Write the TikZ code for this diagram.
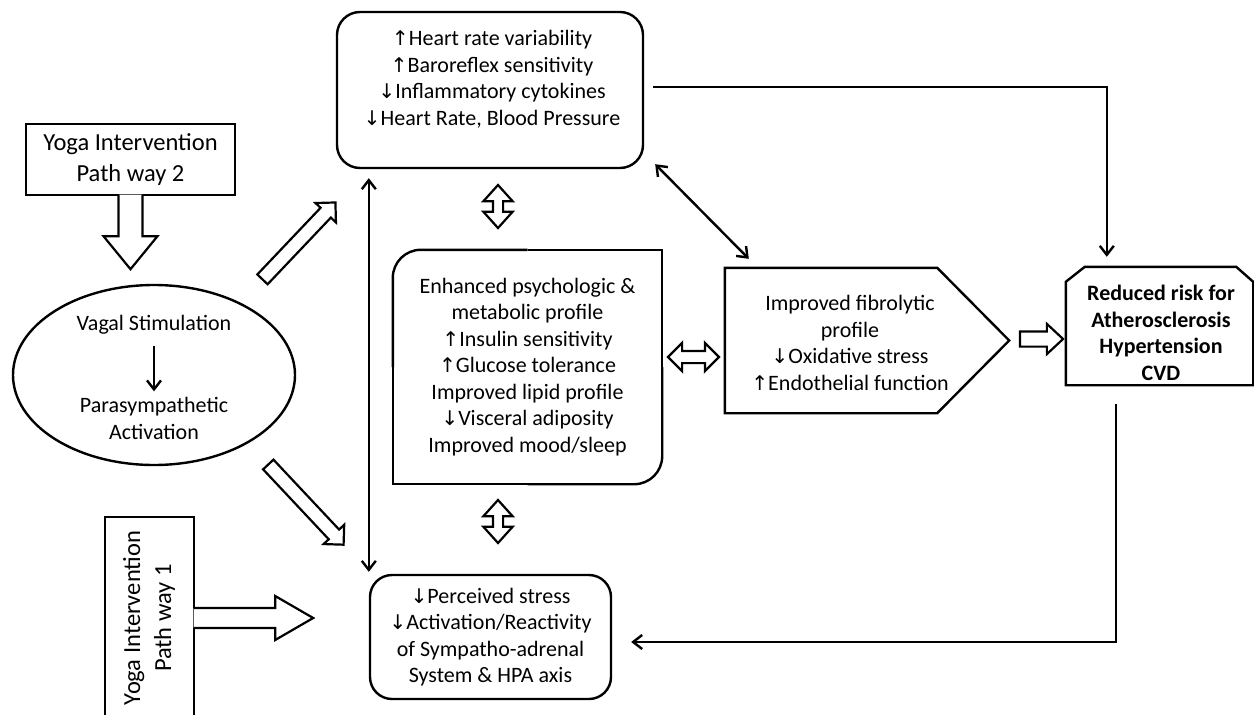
\documentclass[tikz,border=0pt]{standalone}
\usepackage{fontspec}
\setmainfont{Carlito}
\newfontfamily\symbfont{DejaVu Sans}[Scale=0.92]
\usetikzlibrary{arrows.meta,shapes.geometric,shapes.arrows,calc}
\newcommand{\uarr}{{\symbfont ↑}}
\newcommand{\darr}{{\symbfont ↓}}

\begin{document}
\begin{tikzpicture}[x=1pt, y=-1pt, line width=2.4pt,
  txt/.style={align=center, inner sep=0pt, font=\fontsize{22}{26.5}\selectfont},
  yogatxt/.style={align=center, inner sep=0pt, font=\fontsize{24.5}{31}\selectfont},
  boxed/.style={draw, inner sep=0pt},
  hollow/.style={draw, fill=white, inner sep=0pt, line width=2.2pt},
  arr/.style={-{Straight Barb[length=9pt,width=14pt]}},
  twoway/.style={{Straight Barb[length=9pt,width=14pt]}-{Straight Barb[length=9pt,width=14pt]}}]
  \useasboundingbox (0,0) rectangle (1254,715);

  % the five boxes
  \node[boxed, rounded corners=23pt, minimum width=306pt, minimum height=156pt] (topbox) at (490,90) {};
  \node[txt] (toptext) at (492,79.5) {\uarr Heart rate variability\\ \uarr Baroreflex sensitivity\\
    \darr Inflammatory cytokines\\ \darr Heart Rate, Blood Pressure};
  \node[txt, minimum width=267pt, minimum height=232pt] (midbox) at (527.5,367) {Enhanced psychologic \&\\
    metabolic profile\\ \uarr Insulin sensitivity\\ \uarr Glucose tolerance\\ Improved lipid profile\\
    \darr Visceral adiposity\\ Improved mood/sleep};
  \draw[rounded corners=28pt] (midbox.west) -- (midbox.north west) -- (midbox.north);
  \draw[rounded corners=28pt] (midbox.east) -- (midbox.south east) -- (midbox.south);
  \draw (midbox.north) -- (midbox.north east) -- (midbox.east);
  \draw (midbox.south) -- (midbox.south west) -- (midbox.west);
  \node[txt, draw, rounded corners=22pt, minimum width=241pt, minimum height=124pt] (botbox) at (490.5,637)
    {\darr Perceived stress\\ \darr Activation/Reactivity\\ of Sympatho-adrenal\\ System \& HPA axis};
  \node[minimum width=210pt, minimum height=143pt, inner sep=0pt] (fib) at (831,340.5) {};
  \draw (fib.north west) -- (fib.north east) -- ($(fib.east)+(72,0)$) -- (fib.south east) -- (fib.south west) -- cycle;
  \node[txt] (fibtext) at (850,343) {Improved fibrolytic\\ profile\\ \darr Oxidative stress\\ \uarr Endothelial function};
  \node[minimum width=185pt, minimum height=116pt, inner sep=0pt] (risk) at (1159.5,326) {};
  \draw (risk.south west) -- ($(risk.north west)+(0,15)$) -- ($(risk.north west)+(19,0)$)
    -- ($(risk.north east)+(-17,0)$) -- ($(risk.north east)+(0,15)$) -- (risk.south east) -- cycle;
  \node[txt, font=\fontsize{22}{26.5}\selectfont\bfseries] (risktext) at (1161,333)
    {Reduced risk for\\ Atherosclerosis\\ Hypertension\\ CVD};

  % left side: the two pathways and the vagus
  \node[boxed, yogatxt, minimum width=209pt, minimum height=71pt] (yoga2) at (130.5,159.5) {Yoga Intervention\\ Path way 2};
  \draw[hollow] ($(yoga2.south)+(-12,-1.5)$) -- ++(0,41.5) -- ++(-15,0) -- ($(yoga2.south)+(0,73)$)
    -- ++(27,-33) -- ++(-15,0) -- ++(0,-41.5);
  \node[boxed, yogatxt, minimum width=89pt, minimum height=202pt] (yoga1) at (149.5,618)
    {\rotatebox{90}{\begin{tabular}{@{}c@{}}Yoga Intervention\\ Path way 1\end{tabular}}};
  \draw[hollow] ($(yoga1.east)+(-1.5,-10)$) -- ++(81.5,0) -- ++(0,-12) -- ($(yoga1.east)+(118,0)$)
    -- ++(-38,22) -- ++(0,-12) -- ++(-81.5,0);
  \node[draw, ellipse, minimum width=282pt, minimum height=180pt, inner sep=0pt] (vagus) at (154,375) {};
  \node[txt] (vs) at (154,325) {Vagal Stimulation};
  \node[txt] (pa) at (154,418.5) {Parasympathetic\\ Activation};
  \draw[arr] ($(vs.south)+(0,10)$) -- ($(pa.north)+(0,-5)$);

  % hollow arrows
  \node[hollow, single arrow, minimum height=106pt, inner ysep=6pt, single arrow head extend=7pt,
    single arrow tip angle=90, rotate=46.5] (upar) at (296.5,243.5) {};
  \node[hollow, single arrow, minimum height=110pt, inner ysep=6pt, single arrow head extend=7pt,
    single arrow tip angle=90, rotate=-46.8] (dnar) at (303.5,502) {};
  \node[hollow, double arrow, minimum height=43pt, inner ysep=4pt, double arrow head extend=9.5pt,
    double arrow tip angle=84, rotate=90] (updn1) at (498,206.5) {};
  \node[hollow, double arrow, minimum height=43pt, inner ysep=4pt, double arrow head extend=9.5pt,
    double arrow tip angle=84, rotate=90] (updn2) at (498,521.5) {};
  \node[hollow, double arrow, minimum height=51pt, inner ysep=5pt, double arrow head extend=8pt,
    double arrow tip angle=90] (lr) at (693.5,357) {};
  \node[hollow, single arrow, minimum height=43pt, inner ysep=6.5pt, single arrow head extend=7.5pt,
    single arrow tip angle=86] (torisk) at (1037.5,339) {};

  % thin connectors
  \draw[twoway] ($(topbox.south -| botbox.west)+(0,9)$) -- ($(botbox.north west)+(0,-2)$);
  \draw[twoway] ($(topbox.south east)+(11,-5)$) -- ($(fib.north west)+(24,-9)$);
  \draw[arr] ($(topbox.east)+(9,-3)$) -| ($(risk.north west)+(41,-10)$);
  \draw[arr] ($(risk.south west)+(50,19)$) |- ($(botbox.east)+(19,5)$);
\end{tikzpicture}
\end{document}
